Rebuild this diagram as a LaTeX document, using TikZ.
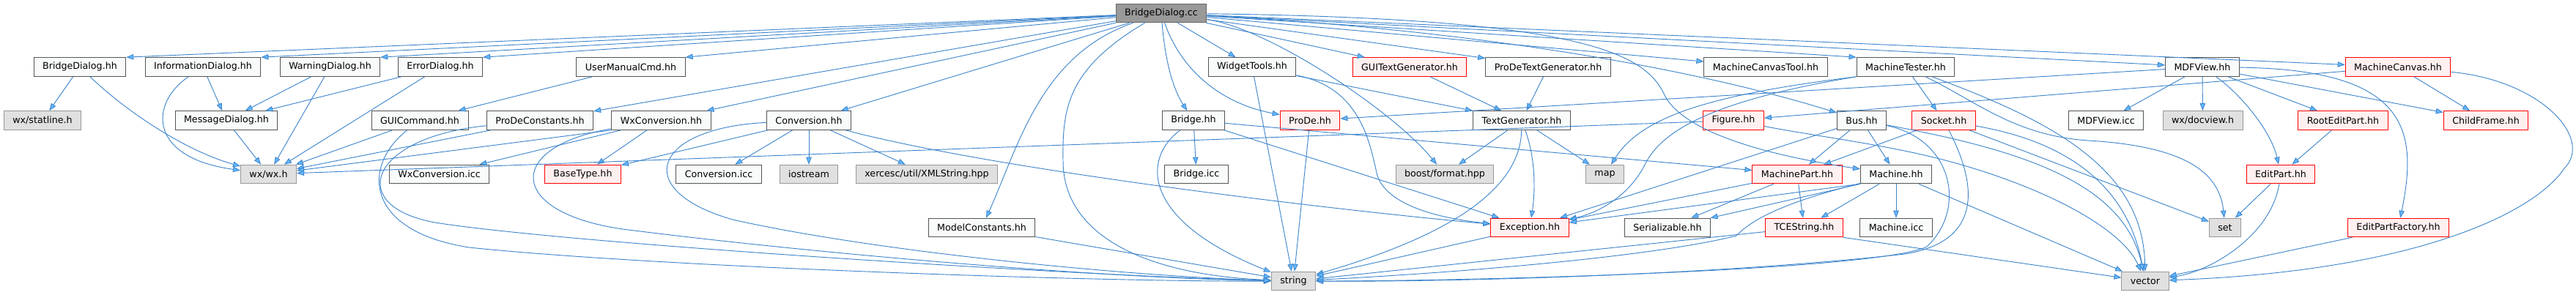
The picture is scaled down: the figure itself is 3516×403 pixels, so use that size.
\documentclass[tikz,border=0pt]{standalone}
\usepackage{fontspec}
\setmainfont{DejaVu Sans}
\usepackage{xcolor}
\usepackage{tikz}
\usetikzlibrary{arrows.meta}

\definecolor{depline}{HTML}{3F86CC}
\definecolor{deptip}{HTML}{63B8FF}
\definecolor{filefill}{HTML}{F9FAFA}
\definecolor{fileborder}{HTML}{555555}
\definecolor{sysfill}{HTML}{E0E0E0}
\definecolor{sysborder}{HTML}{999999}
\definecolor{truncfill}{HTML}{FFF0F0}
\definecolor{rootfill}{HTML}{999999}

\begin{document}
\begin{tikzpicture}[x=0.75pt,y=-0.75pt,
  file/.style={draw=fileborder,fill=filefill,line width=0.75pt,minimum height=19.2pt,inner xsep=9pt,inner ysep=0pt,font=\fontsize{9.5}{11}\selectfont},
  sys/.style={file,draw=sysborder,fill=sysfill},
  trunc/.style={file,draw=red,fill=truncfill},
  rootfile/.style={file,draw=black!60,fill=rootfill},
  dep/.style={draw=depline,line width=0.7pt,-{Triangle[length=7.5pt,width=5.6pt,fill=deptip]}}
]
  \fill[white] (0,0) rectangle (3516,403);
  \useasboundingbox (0,0) rectangle (3516,403);

  % Root
  \node[rootfile] (root) at (1585,18) {BridgeDialog.cc};

  % Row 1
  \node[file] (bdlgh) at (109,91.5) {BridgeDialog.hh};
  \node[file] (infodlg) at (277,91.5) {InformationDialog.hh};
  \node[file] (warndlg) at (450.5,91.5) {WarningDialog.hh};
  \node[file] (errdlg) at (601,91.5) {ErrorDialog.hh};
  \node[file] (usermancmd) at (861,91.5) {UserManualCmd.hh};
  \node[file] (widgettools) at (1709,91.5) {WidgetTools.hh};
  \node[trunc] (guitextgen) at (1924,91.5) {GUITextGenerator.hh};
  \node[file] (prodetextgen) at (2113,91.5) {ProDeTextGenerator.hh};
  \node[file] (mctool) at (2410,91.5) {MachineCanvasTool.hh};
  \node[file] (mtester) at (2601,91.5) {MachineTester.hh};
  \node[file] (mdfview) at (3006,91.5) {MDFView.hh};
  \node[trunc] (mcanvas) at (3273,91.5) {MachineCanvas.hh};

  % Row 2
  \node[sys] (statline) at (58,164.5) {wx/statline.h};
  \node[file] (msgdlg) at (309,164.5) {MessageDialog.hh};
  \node[file] (guicmd) at (573,164.5) {GUICommand.hh};
  \node[file] (prodeconst) at (737,164.5) {ProDeConstants.hh};
  \node[file] (wxconv) at (902.5,164.5) {WxConversion.hh};
  \node[file] (conv) at (1104,164.5) {Conversion.hh};
  \node[file] (bridge) at (1629,164.5) {Bridge.hh};
  \node[trunc] (prode) at (1788,164.5) {ProDe.hh};
  \node[file] (textgen) at (2077,164.5) {TextGenerator.hh};
  \node[trunc] (figure) at (2366,164.5) {Figure.hh};
  \node[file] (bus) at (2541,164.5) {Bus.hh};
  \node[trunc] (socket) at (2653,164.5) {Socket.hh};
  \node[file] (mdficc) at (2874.5,164.5) {MDFView.icc};
  \node[sys] (docview) at (3006.5,164.5) {wx/docview.h};
  \node[trunc] (rootedit) at (3198,164.5) {RootEditPart.hh};
  \node[trunc] (childframe) at (3393,164.5) {ChildFrame.hh};

  % Row 3
  \node[sys] (wxh) at (366.5,238) {wx/wx.h};
  \node[file] (wxconvicc) at (599.5,238) {WxConversion.icc};
  \node[trunc] (basetype) at (795.5,238) {BaseType.hh};
  \node[file] (convicc) at (981,238) {Conversion.icc};
  \node[sys] (iostream) at (1104,238) {iostream};
  \node[sys] (xmlstring) at (1265,238) {xercesc/util/XMLString.hpp};
  \node[file] (bridgeicc) at (1633,238) {Bridge.icc};
  \node[sys] (boostfmt) at (1972,238) {boost/format.hpp};
  \node[sys] (stdmap) at (2190.5,238) {map};
  \node[trunc] (machpart) at (2453,238) {MachinePart.hh};
  \node[file] (machine) at (2588,238) {Machine.hh};
  \node[trunc] (editpart) at (3113,238) {EditPart.hh};

  % Row 4
  \node[file] (modelconst) at (1340,311) {ModelConstants.hh};
  \node[trunc] (exception) at (2088,311) {Exception.hh};
  \node[file] (serial) at (2276,311) {Serializable.hh};
  \node[trunc] (tcestring) at (2462.5,311) {TCEString.hh};
  \node[file] (machineicc) at (2588,311) {Machine.icc};
  \node[sys] (stdset) at (3037,311) {set};
  \node[trunc] (editfactory) at (3273.5,311) {EditPartFactory.hh};

  % Row 5
  \node[sys] (stdstring) at (1765.5,384) {string};
  \node[sys] (stdvector) at (2928,384) {vector};

  % Includes of the root
  \draw[dep] (root) -- (bdlgh.north east);
  \draw[dep] (root) -- (infodlg.north east);
  \draw[dep] (root) -- (warndlg.north east);
  \draw[dep] (root) -- (errdlg.north east);
  \draw[dep] (root) -- (usermancmd.north east);
  \draw[dep] (root) -- (prodeconst);
  \draw[dep] (root) -- (wxconv);
  \draw[dep] (root) -- (conv);
  \draw[dep] (root) .. controls (1420,75) and (1390,200) .. (modelconst);
  \draw[dep] (root) .. controls (1455,95) and (1450,150) .. (1451,220) .. controls (1451,320) and (1560,375) .. (stdstring);
  \draw[dep] (root) .. controls (1590,80) and (1600,120) .. (bridge);
  \draw[dep] (root) .. controls (1610,90) and (1660,140) .. (prode);
  \draw[dep] (root) -- (widgettools);
  \draw[dep] (root) .. controls (1730,38) and (1900,150) .. (boostfmt);
  \draw[dep] (root) -- (guitextgen);
  \draw[dep] (root) -- (prodetextgen);
  \draw[dep] (root) -- (mctool);
  \draw[dep] (root) -- (mtester.north west);
  \draw[dep] (root) -- (mdfview);
  \draw[dep] (root) -- (mcanvas);
  \draw[dep] (root) .. controls (2000,40) and (2300,90) .. (bus);
  \draw[dep] (root) .. controls (2150,25) and (2245,70) .. (2272,130) .. controls (2300,185) and (2430,215) .. (machine);

  % Dialogs
  \draw[dep] (bdlgh) -- (statline);
  \draw[dep] (bdlgh) .. controls (170,150) and (250,205) .. (wxh);
  \draw[dep] (infodlg) .. controls (205,140) and (200,215) .. (wxh);
  \draw[dep] (infodlg) -- (msgdlg);
  \draw[dep] (warndlg) -- (msgdlg);
  \draw[dep] (warndlg) -- (wxh);
  \draw[dep] (errdlg) -- (msgdlg);
  \draw[dep] (errdlg) -- (wxh);
  \draw[dep] (msgdlg) -- (wxh);
  \draw[dep] (usermancmd) -- (guicmd);
  \draw[dep] (guicmd) -- (wxh);
  \draw[dep] (guicmd) .. controls (495,225) and (495,315) .. (640,338) .. controls (900,365) and (1500,385) .. (stdstring);
  \draw[dep] (prodeconst) -- (wxh);
  \draw[dep] (prodeconst) .. controls (500,188) and (470,285) .. (600,305) .. controls (800,335) and (1500,378) .. (stdstring);

  % Conversions
  \draw[dep] (wxconv.south west) -- (wxh);
  \draw[dep] (wxconv) -- (wxconvicc);
  \draw[dep] (wxconv) -- (basetype);
  \draw[dep] (wxconv) .. controls (690,200) and (690,290) .. (850,313) .. controls (1100,345) and (1500,380) .. (stdstring);
  \draw[dep] (conv) .. controls (890,175) and (860,260) .. (1000,300) .. controls (1200,345) and (1550,378) .. (stdstring);
  \draw[dep] (conv) -- (basetype);
  \draw[dep] (conv) -- (convicc);
  \draw[dep] (conv) -- (iostream);
  \draw[dep] (conv) -- (xmlstring);
  \draw[dep] (conv) .. controls (1350,230) and (1800,285) .. (exception);

  % Bridge
  \draw[dep] (bridge) -- (bridgeicc);
  \draw[dep] (bridge) .. controls (1560,215) and (1555,300) .. (stdstring);
  \draw[dep] (bridge) -- (exception);
  \draw[dep] (bridge) -- (machpart);

  % Text generators
  \draw[dep] (widgettools) -- (textgen);
  \draw[dep] (widgettools) .. controls (1860,120) and (1870,200) .. (1880,240) .. controls (1895,285) and (1980,300) .. (exception);
  \draw[dep] (widgettools) -- (stdstring);
  \draw[dep] (guitextgen) -- (textgen);
  \draw[dep] (prodetextgen) -- (textgen);
  \draw[dep] (textgen) -- (boostfmt);
  \draw[dep] (textgen) -- (stdmap);
  \draw[dep] (textgen) .. controls (2097,220) and (2095,265) .. (exception);
  \draw[dep] (textgen) .. controls (2075,270) and (1950,330) .. (stdstring);
  \draw[dep] (prode) -- (stdstring);

  % Machine model
  \draw[dep] (figure) -- (wxh);
  \draw[dep] (figure) .. controls (2500,190) and (2600,200) .. (2700,232) .. controls (2820,270) and (2900,320) .. (stdvector);
  \draw[dep] (mtester) -- (socket);
  \draw[dep] (mtester.south west) .. controls (2330,130) and (2240,160) .. (stdmap);
  \draw[dep] (mtester.south west) .. controls (2320,140) and (2265,185) .. (2245,225) .. controls (2225,265) and (2185,290) .. (exception);
  \draw[dep] (mtester) .. controls (2700,140) and (2750,185) .. (2850,192) .. controls (2990,200) and (3030,240) .. (stdset);
  \draw[dep] (mtester) .. controls (2800,165) and (2925,230) .. (stdvector);
  \draw[dep] (socket) -- (machpart);
  \draw[dep] (socket) -- (stdset);
  \draw[dep] (socket) .. controls (2830,195) and (2905,260) .. (stdvector);
  \draw[dep] (socket) .. controls (2700,255) and (2705,330) .. (2600,347) .. controls (2350,375) and (2000,385) .. (stdstring);
  \draw[dep] (bus) -- (machpart);
  \draw[dep] (bus) -- (machine);
  \draw[dep] (bus) -- (exception);
  \draw[dep] (bus) .. controls (2760,205) and (2900,250) .. (stdvector);
  \draw[dep] (bus) .. controls (2665,190) and (2685,285) .. (2630,337) .. controls (2560,370) and (2000,384) .. (stdstring);
  \draw[dep] (machpart) -- (exception);
  \draw[dep] (machpart) -- (serial);
  \draw[dep] (machpart) -- (tcestring);
  \draw[dep] (machine.south west) -- (exception);
  \draw[dep] (machine.south west) -- (serial);
  \draw[dep] (machine) .. controls (2470,268) and (2400,290) .. (2370,322) .. controls (2260,350) and (2000,372) .. (stdstring);
  \draw[dep] (machine) -- (tcestring);
  \draw[dep] (machine) -- (machineicc);
  \draw[dep] (machine) -- (stdvector);
  \draw[dep] (tcestring) -- (stdstring);
  \draw[dep] (tcestring.south east) -- (stdvector);
  \draw[dep] (exception) -- (stdstring);
  \draw[dep] (modelconst) -- (stdstring);

  % MDF view and canvas
  \draw[dep] (mdfview) -- (prode);
  \draw[dep] (mdfview) -- (mdficc);
  \draw[dep] (mdfview) -- (docview);
  \draw[dep] (mdfview) -- (rootedit);
  \draw[dep] (mdfview) .. controls (3060,130) and (3100,180) .. (editpart);
  \draw[dep] (mdfview) -- (childframe);
  \draw[dep] (mdfview) .. controls (3290,95) and (3300,180) .. (editfactory);
  \draw[dep] (mcanvas) -- (figure);
  \draw[dep] (mcanvas) -- (childframe);
  \draw[dep] (mcanvas) .. controls (3470,110) and (3540,190) .. (3500,230) .. controls (3460,290) and (3300,370) .. (stdvector);
  \draw[dep] (rootedit) -- (editpart);
  \draw[dep] (editpart) -- (stdset);
  \draw[dep] (editpart) .. controls (3100,320) and (3020,370) .. (stdvector);
  \draw[dep] (editfactory) -- (stdvector);
\end{tikzpicture}
\end{document}
